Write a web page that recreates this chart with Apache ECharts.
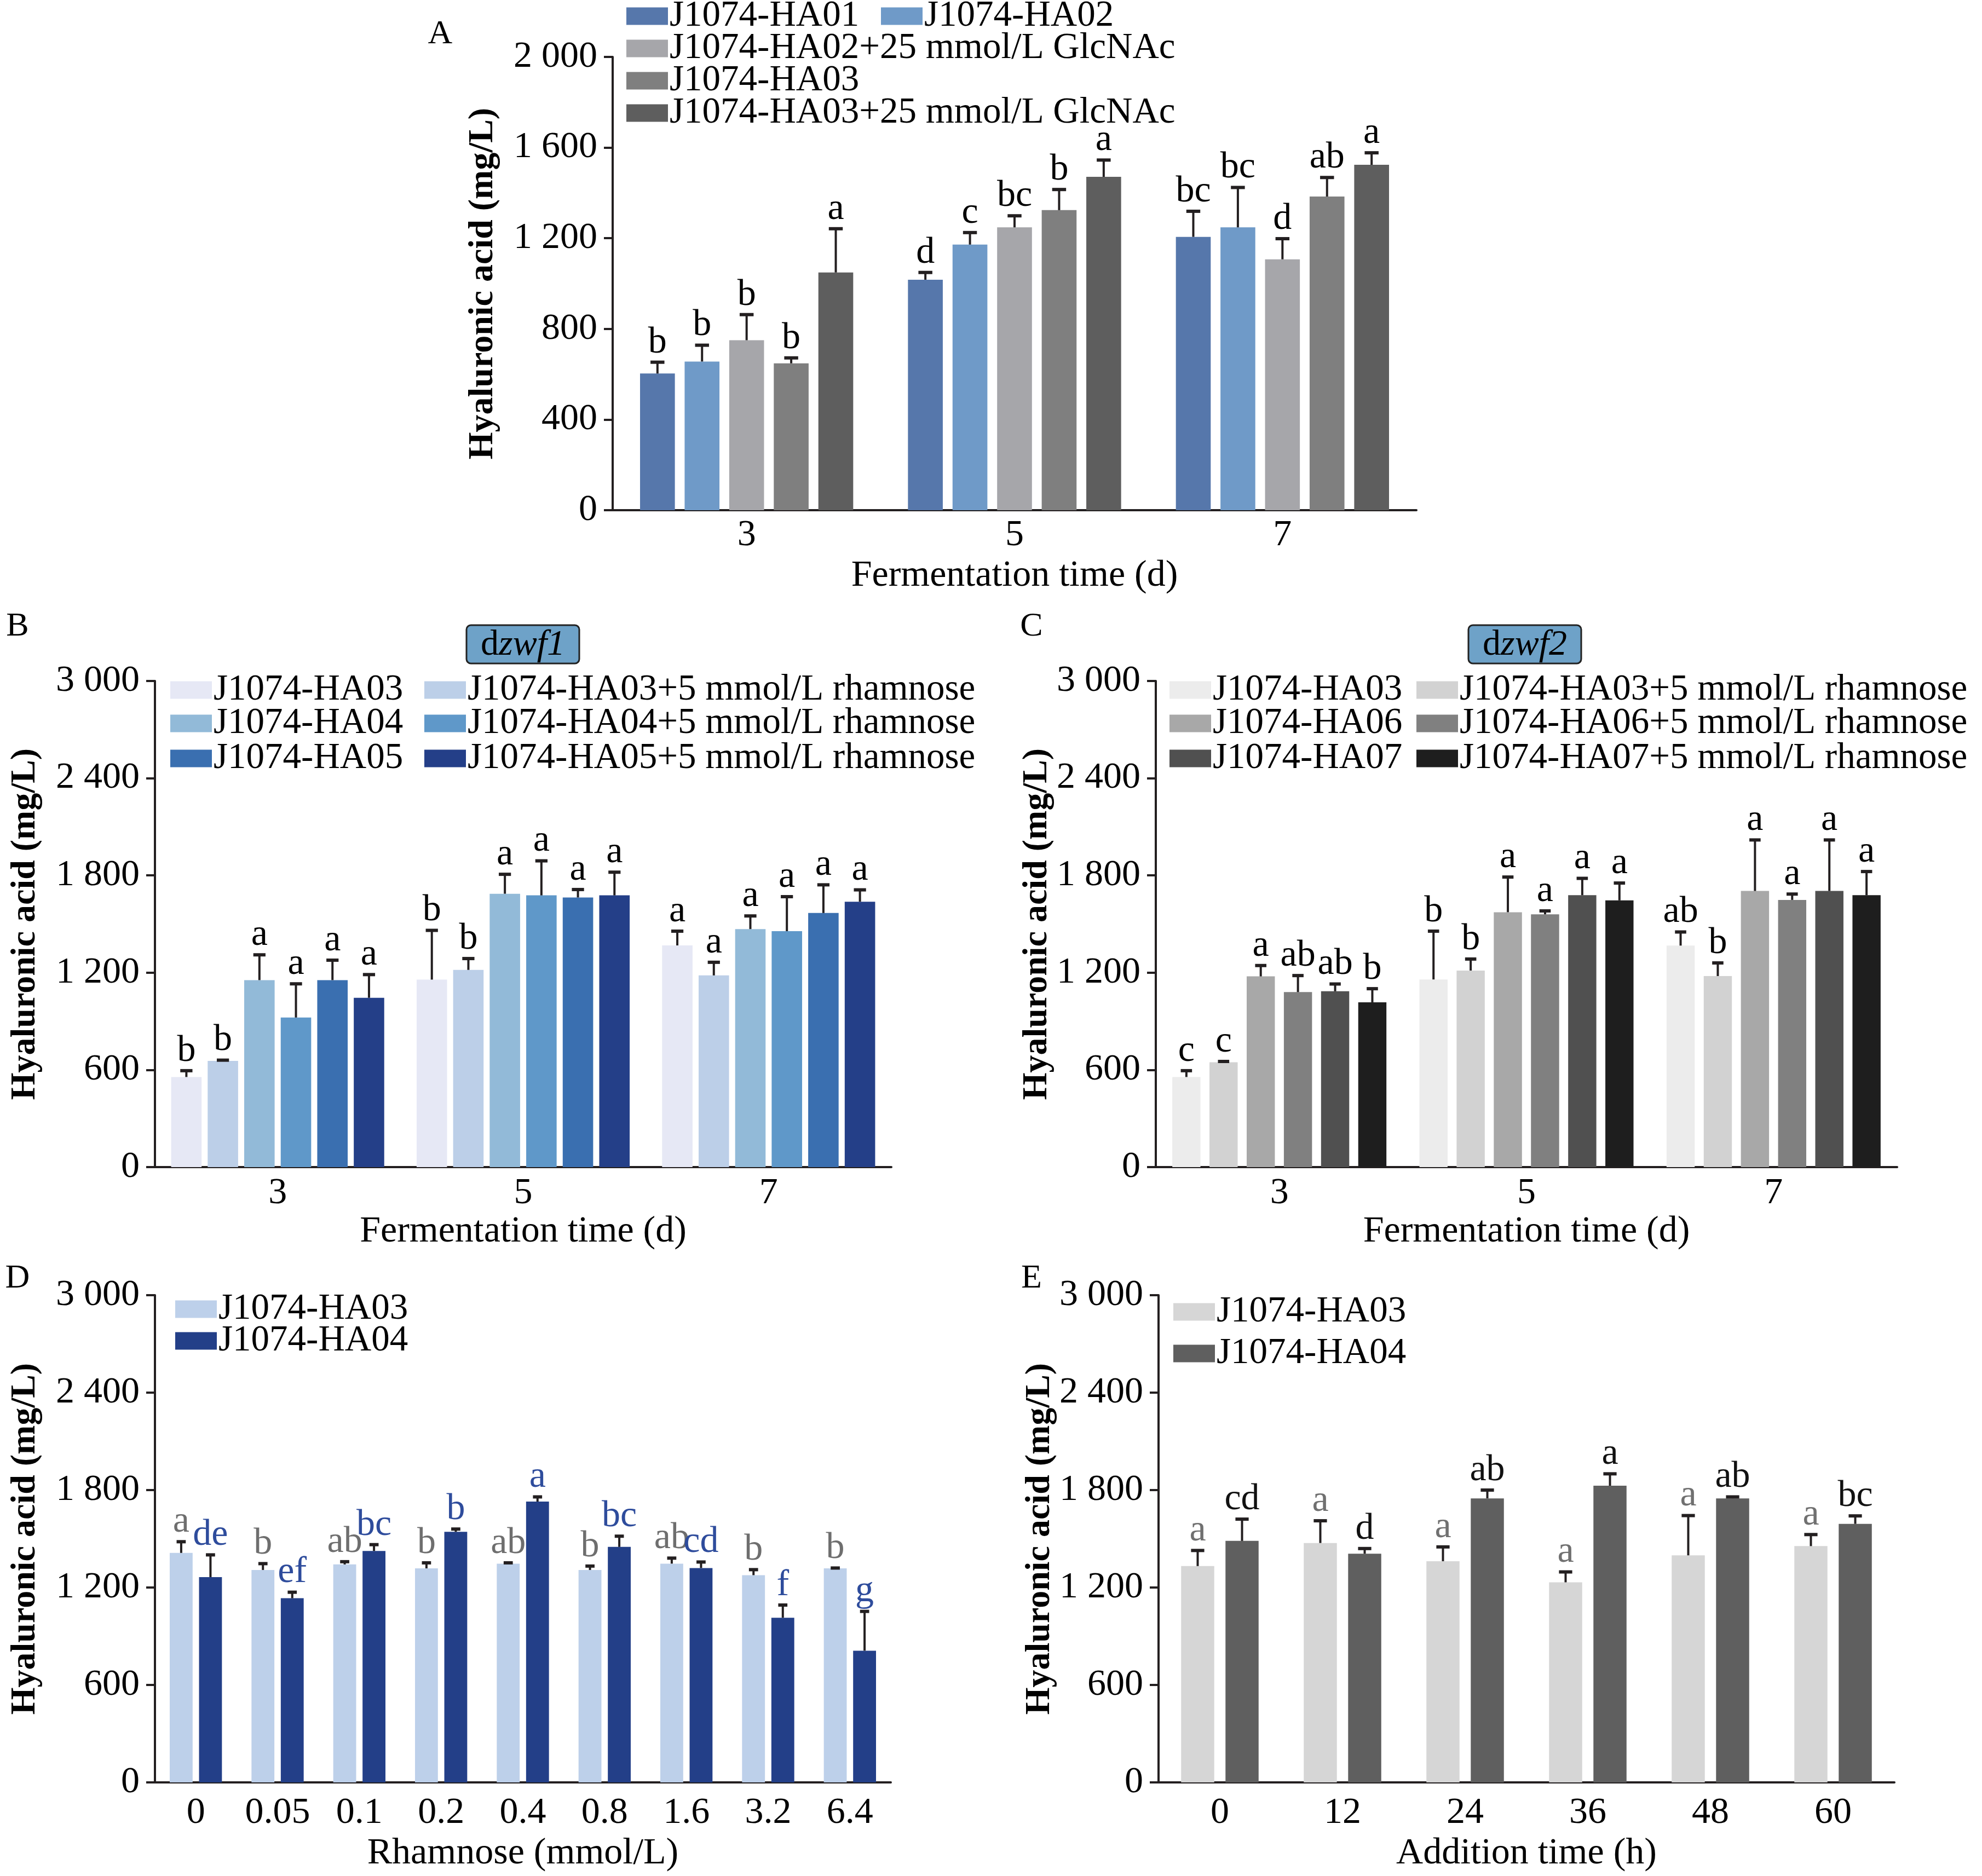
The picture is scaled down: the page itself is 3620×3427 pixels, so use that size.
<!DOCTYPE html>
<html>
<head>
<meta charset="utf-8">
<script src="https://cdn.jsdelivr.net/npm/echarts@6/dist/echarts.min.js"></script>
<style>
  html, body { margin: 0; padding: 0; background: #fff; }
  #main { width: 3620px; height: 3427px; }
</style>
</head>
<body>
<div id="main"></div>
<script>
// panel A
var aCats = ['3', '5', '7'];
var aNames = ['J1074-HA01', 'J1074-HA02', 'J1074-HA02+25 mmol/L GlcNAc', 'J1074-HA03', 'J1074-HA03+25 mmol/L GlcNAc'];
var aHA01 = [603, 1017, 1206];
var aHA02 = [656, 1172, 1248];
var aHA02G = [750, 1248, 1107];
var aHA03 = [648, 1324, 1384];
var aHA03G = [1049, 1471, 1524];
var aSd = [[50, 32, 113], [72, 53, 176], [113, 51, 91], [24, 91, 84], [193, 74, 53]];
var aLetters = [['b', 'd', 'bc'], ['b', 'c', 'bc'], ['b', 'bc', 'd'], ['b', 'b', 'ab'], ['a', 'a', 'a']];

// panel B (dzwf1)
var bCats = ['3', '5', '7'];
var bNames = ['J1074-HA03', 'J1074-HA03+5 mmol/L rhamnose', 'J1074-HA04', 'J1074-HA04+5 mmol/L rhamnose', 'J1074-HA05', 'J1074-HA05+5 mmol/L rhamnose'];
var bHA03 = [556, 1157, 1368];
var bHA03R = [655, 1217, 1183];
var bHA04 = [1154, 1687, 1469];
var bHA04R = [923, 1677, 1456];
var bHA05 = [1154, 1664, 1568];
var bHA05R = [1045, 1677, 1638];
var bSd = [[39, 304, 88], [5, 70, 81], [156, 120, 81], [208, 213, 213], [123, 49, 174], [143, 143, 73]];
var bLetters = [['b', 'b', 'a'], ['b', 'b', 'a'], ['a', 'a', 'a'], ['a', 'a', 'a'], ['a', 'a', 'a'], ['a', 'a', 'a']];

// panel C (dzwf2)
var cCats = ['3', '5', '7'];
var cNames = ['J1074-HA03', 'J1074-HA03+5 mmol/L rhamnose', 'J1074-HA06', 'J1074-HA06+5 mmol/L rhamnose', 'J1074-HA07', 'J1074-HA07+5 mmol/L rhamnose'];
var cHA03 = [556, 1158, 1367];
var cHA03R = [647, 1213, 1179];
var cHA06 = [1177, 1573, 1704];
var cHA06R = [1080, 1560, 1649];
var cHA07 = [1085, 1678, 1704];
var cHA07R = [1017, 1646, 1678];
var cSd = [[39, 298, 84], [5, 71, 81], [67, 217, 315], [102, 21, 36], [45, 104, 315], [84, 107, 146]];
var cLetters = [['c', 'b', 'ab'], ['c', 'b', 'b'], ['a', 'a', 'a'], ['ab', 'a', 'a'], ['ab', 'a', 'a'], ['b', 'a', 'a']];

// panel D (rhamnose dose)
var dCats = ['0', '0.05', '0.1', '0.2', '0.4', '0.8', '1.6', '3.2', '6.4'];
var dNames = ['J1074-HA03', 'J1074-HA04'];
var dHA03 = [1413, 1308, 1342, 1318, 1347, 1308, 1347, 1276, 1318];
var dHA04 = [1264, 1134, 1425, 1543, 1729, 1450, 1320, 1014, 811];
var dSd = [[69, 39, 17, 34, 5, 24, 34, 34, 2], [137, 37, 39, 17, 29, 66, 37, 78, 242]];
var dLetters = [['a', 'b', 'ab', 'b', 'ab', 'b', 'ab', 'b', 'b'], ['de', 'ef', 'bc', 'b', 'a', 'bc', 'cd', 'f', 'g']];

// panel E (addition time)
var eCats = ['0', '12', '24', '36', '48', '60'];
var eNames = ['J1074-HA03', 'J1074-HA04'];
var eHA03 = [1332, 1474, 1362, 1232, 1398, 1455];
var eHA04 = [1487, 1408, 1749, 1827, 1749, 1592];
var eSd = [[96, 137, 88, 64, 245, 71], [134, 32, 51, 73, 9, 49]];
var eLetters = [['a', 'a', 'a', 'a', 'a', 'a'], ['cd', 'd', 'ab', 'a', 'ab', 'bc']];

var FONT = 'Liberation Serif';
var INK = '#231f20';

var panels = [
    {
        key: 'A', cats: aCats, names: aNames, values: [aHA01, aHA02, aHA02G, aHA03, aHA03G], sds: aSd, letters: aLetters,
        colors: ['#5677ab', '#6f9ac8', '#a6a6aa', '#7f7f7f', '#5e5e5e'],
        letterColors: ['#000', '#000', '#000', '#000', '#000'],
        grid: { left: 1119, top: 104, width: 1468, height: 828 },
        max: 2000, interval: 400, barPct: 0.13, gapPct: 0.28,
        xName: 'Fermentation time (d)', yNameGap: 205, xNameGap: 86, xLabelMargin: 12,
        legends: [[1144, 30], [1609, 30], [1144, 89], [1144, 148], [1144, 207]]
    },
    {
        key: 'B', cats: bCats, names: bNames, values: [bHA03, bHA03R, bHA04, bHA04R, bHA05, bHA05R], sds: bSd, letters: bLetters,
        colors: ['#e6e8f5', '#bccfe8', '#92bad8', '#5f98c9', '#3a6fb0', '#243f88'],
        letterColors: ['#000', '#000', '#000', '#000', '#000', '#000'],
        grid: { left: 283, top: 1244, width: 1345, height: 888 },
        max: 3000, interval: 600, barPct: 0.124, gapPct: 0.2,
        xName: 'Fermentation time (d)', yNameGap: 205, xNameGap: 84, xLabelMargin: 14,
        legends: [[311, 1261], [775, 1261], [311, 1322], [775, 1322], [311, 1386], [775, 1386]]
    },
    {
        key: 'C', cats: cCats, names: cNames, values: [cHA03, cHA03R, cHA06, cHA06R, cHA07, cHA07R], sds: cSd, letters: cLetters,
        colors: ['#ececec', '#d2d2d2', '#a8a8a8', '#808080', '#505050', '#1e1e1e'],
        letterColors: ['#000', '#000', '#000', '#000', '#000', '#000'],
        grid: { left: 2111, top: 1244, width: 1354, height: 888 },
        max: 3000, interval: 600, barPct: 0.114, gapPct: 0.32,
        xName: 'Fermentation time (d)', yNameGap: 185, xNameGap: 84, xLabelMargin: 14,
        legends: [[2136, 1261], [2587, 1261], [2136, 1322], [2587, 1322], [2136, 1386], [2587, 1386]]
    },
    {
        key: 'D', cats: dCats, names: dNames, values: [dHA03, dHA04], sds: dSd, letters: dLetters,
        colors: ['#bdd0ea', '#233f88'],
        letterColors: ['#6e6e6e', '#2e4c9c'],
        grid: { left: 283, top: 2366, width: 1344, height: 890 },
        max: 3000, interval: 600, barPct: 0.28, gapPct: 0.28,
        xName: 'Rhamnose (mmol/L)', yNameGap: 205, xNameGap: 96, xLabelMargin: 22,
        legends: [[320, 2392], [320, 2450]]
    },
    {
        key: 'E', cats: eCats, names: eNames, values: [eHA03, eHA04], sds: eSd, letters: eLetters,
        colors: ['#d6d6d6', '#5f5f5f'],
        letterColors: ['#707070', '#111111'],
        grid: { left: 2116, top: 2366, width: 1344, height: 890 },
        max: 3000, interval: 600, barPct: 0.27, gapPct: 0.34,
        xName: 'Addition time (h)', yNameGap: 185, xNameGap: 96, xLabelMargin: 22,
        legends: [[2143, 2397], [2143, 2473]]
    }
];

function yFmt(v) {
    if (v < 1000) return String(v);
    var r = String(v % 1000);
    while (r.length < 3) r = '0' + r;
    return Math.floor(v / 1000) + ' ' + r;
}

function errRenderer(p) {
    var n = p.values.length;
    return function (params, api) {
        var cat = api.value(0), si = api.value(1), mean = api.value(2), sd = api.value(3);
        var band = api.size([1, 0])[0];
        var bw = band * p.barPct, gap = bw * p.gapPct;
        var total = n * bw + (n - 1) * gap;
        var base = api.coord([cat, 0]);
        var cx = base[0] - total / 2 + si * (bw + gap) + bw / 2;
        var yTop = api.coord([cat, mean])[1];
        var yErr = api.coord([cat, mean + sd])[1];
        var cap = bw * 0.2;
        return {
            type: 'group',
            children: [
                { type: 'line', shape: { x1: cx, y1: yTop, x2: cx, y2: yErr }, style: { stroke: INK, lineWidth: 4 } },
                { type: 'line', shape: { x1: cx - cap, y1: yErr, x2: cx + cap, y2: yErr }, style: { stroke: INK, lineWidth: 6 } },
                {
                    type: 'text', x: cx, y: yErr - 2,
                    style: {
                        text: p.letters[si][cat], textAlign: 'center', textVerticalAlign: 'bottom',
                        font: '68px "' + FONT + '"', fill: p.letterColors[si]
                    }
                }
            ]
        };
    };
}

var option = {
    backgroundColor: '#ffffff',
    animation: false,
    textStyle: { fontFamily: FONT },
    grid: [], xAxis: [], yAxis: [], series: [], legend: [],
    graphic: []
};

panels.forEach(function (p, k) {
    option.grid.push(p.grid);
    option.xAxis.push({
        type: 'category', gridIndex: k, data: p.cats,
        axisLine: { lineStyle: { color: INK, width: 4 } },
        axisTick: { alignWithLabel: true, inside: true, length: 16, interval: 0, lineStyle: { color: INK, width: 4 } },
        axisLabel: { color: '#000', fontFamily: FONT, fontSize: 68, margin: p.xLabelMargin, interval: 0, hideOverlap: false },
        name: p.xName, nameLocation: 'middle', nameGap: p.xNameGap,
        nameTextStyle: { color: '#000', fontFamily: FONT, fontSize: 68 }
    });
    option.yAxis.push({
        type: 'value', gridIndex: k, min: 0, max: p.max, interval: p.interval,
        splitLine: { show: false },
        axisLine: { show: true, lineStyle: { color: INK, width: 4 } },
        axisTick: { show: true, length: 16, lineStyle: { color: INK, width: 4 } },
        axisLabel: { color: '#000', fontFamily: FONT, fontSize: 68, margin: 28, formatter: yFmt },
        name: 'Hyaluronic acid (mg/L)', nameLocation: 'middle', nameGap: p.yNameGap,
        nameTextStyle: { color: '#000', fontFamily: FONT, fontSize: 64, fontWeight: 'bold' }
    });
    var errData = [];
    p.values.forEach(function (vals, i) {
        var sName = p.key + '|' + p.names[i];
        option.series.push({
            type: 'bar', name: sName, xAxisIndex: k, yAxisIndex: k, data: vals,
            barWidth: (p.barPct * 100) + '%', barGap: (p.gapPct * 100) + '%',
            itemStyle: { color: p.colors[i] }
        });
        vals.forEach(function (v, j) { errData.push([j, i, v, p.sds[i][j]]); });
        option.legend.push({
            left: p.legends[i][0], top: p.legends[i][1] - 34,
            data: [sName], icon: 'rect', itemWidth: 76, itemHeight: 32, itemGap: 0,
            padding: 0, selectedMode: false,
            formatter: function (name) { return name.split('|')[1]; },
            textStyle: { color: '#000', fontFamily: FONT, fontSize: 67, padding: [0, 0, 0, -2] }
        });
    });
    option.series.push({
        type: 'custom', name: p.key + '-err', xAxisIndex: k, yAxisIndex: k, z: 5,
        data: errData, encode: { x: 0, y: 2 }, renderItem: errRenderer(p), clip: false
    });
});

// panel letters
[['A', 804, 63], ['B', 32, 1145], ['C', 1884, 1145], ['D', 32, 2336], ['E', 1884, 2336]].forEach(function (t) {
    option.graphic.push({
        type: 'text', x: t[1], y: t[2],
        style: { text: t[0], font: '62px "' + FONT + '"', fill: '#000', textAlign: 'center', textVerticalAlign: 'middle' }
    });
});

// gene tags above panels B and C
[['1', 852], ['2', 2682]].forEach(function (t) {
    option.graphic.push({
        type: 'group', x: t[1], y: 1142,
        children: [
            { type: 'rect', shape: { x: 0, y: 0, width: 206, height: 70, r: 8 }, style: { fill: '#6ea2c8', stroke: '#222', lineWidth: 3 } },
            {
                type: 'text', x: 103, y: 37,
                style: {
                    text: '{n|d}{i|zwf' + t[0] + '}', textAlign: 'center', textVerticalAlign: 'middle',
                    rich: {
                        n: { fontFamily: FONT, fontSize: 66, color: '#111' },
                        i: { fontFamily: FONT, fontSize: 66, fontStyle: 'italic', color: '#111' }
                    }
                }
            }
        ]
    });
});

var chart = echarts.init(document.getElementById('main'));
chart.setOption(option);
</script>
</body>
</html>
